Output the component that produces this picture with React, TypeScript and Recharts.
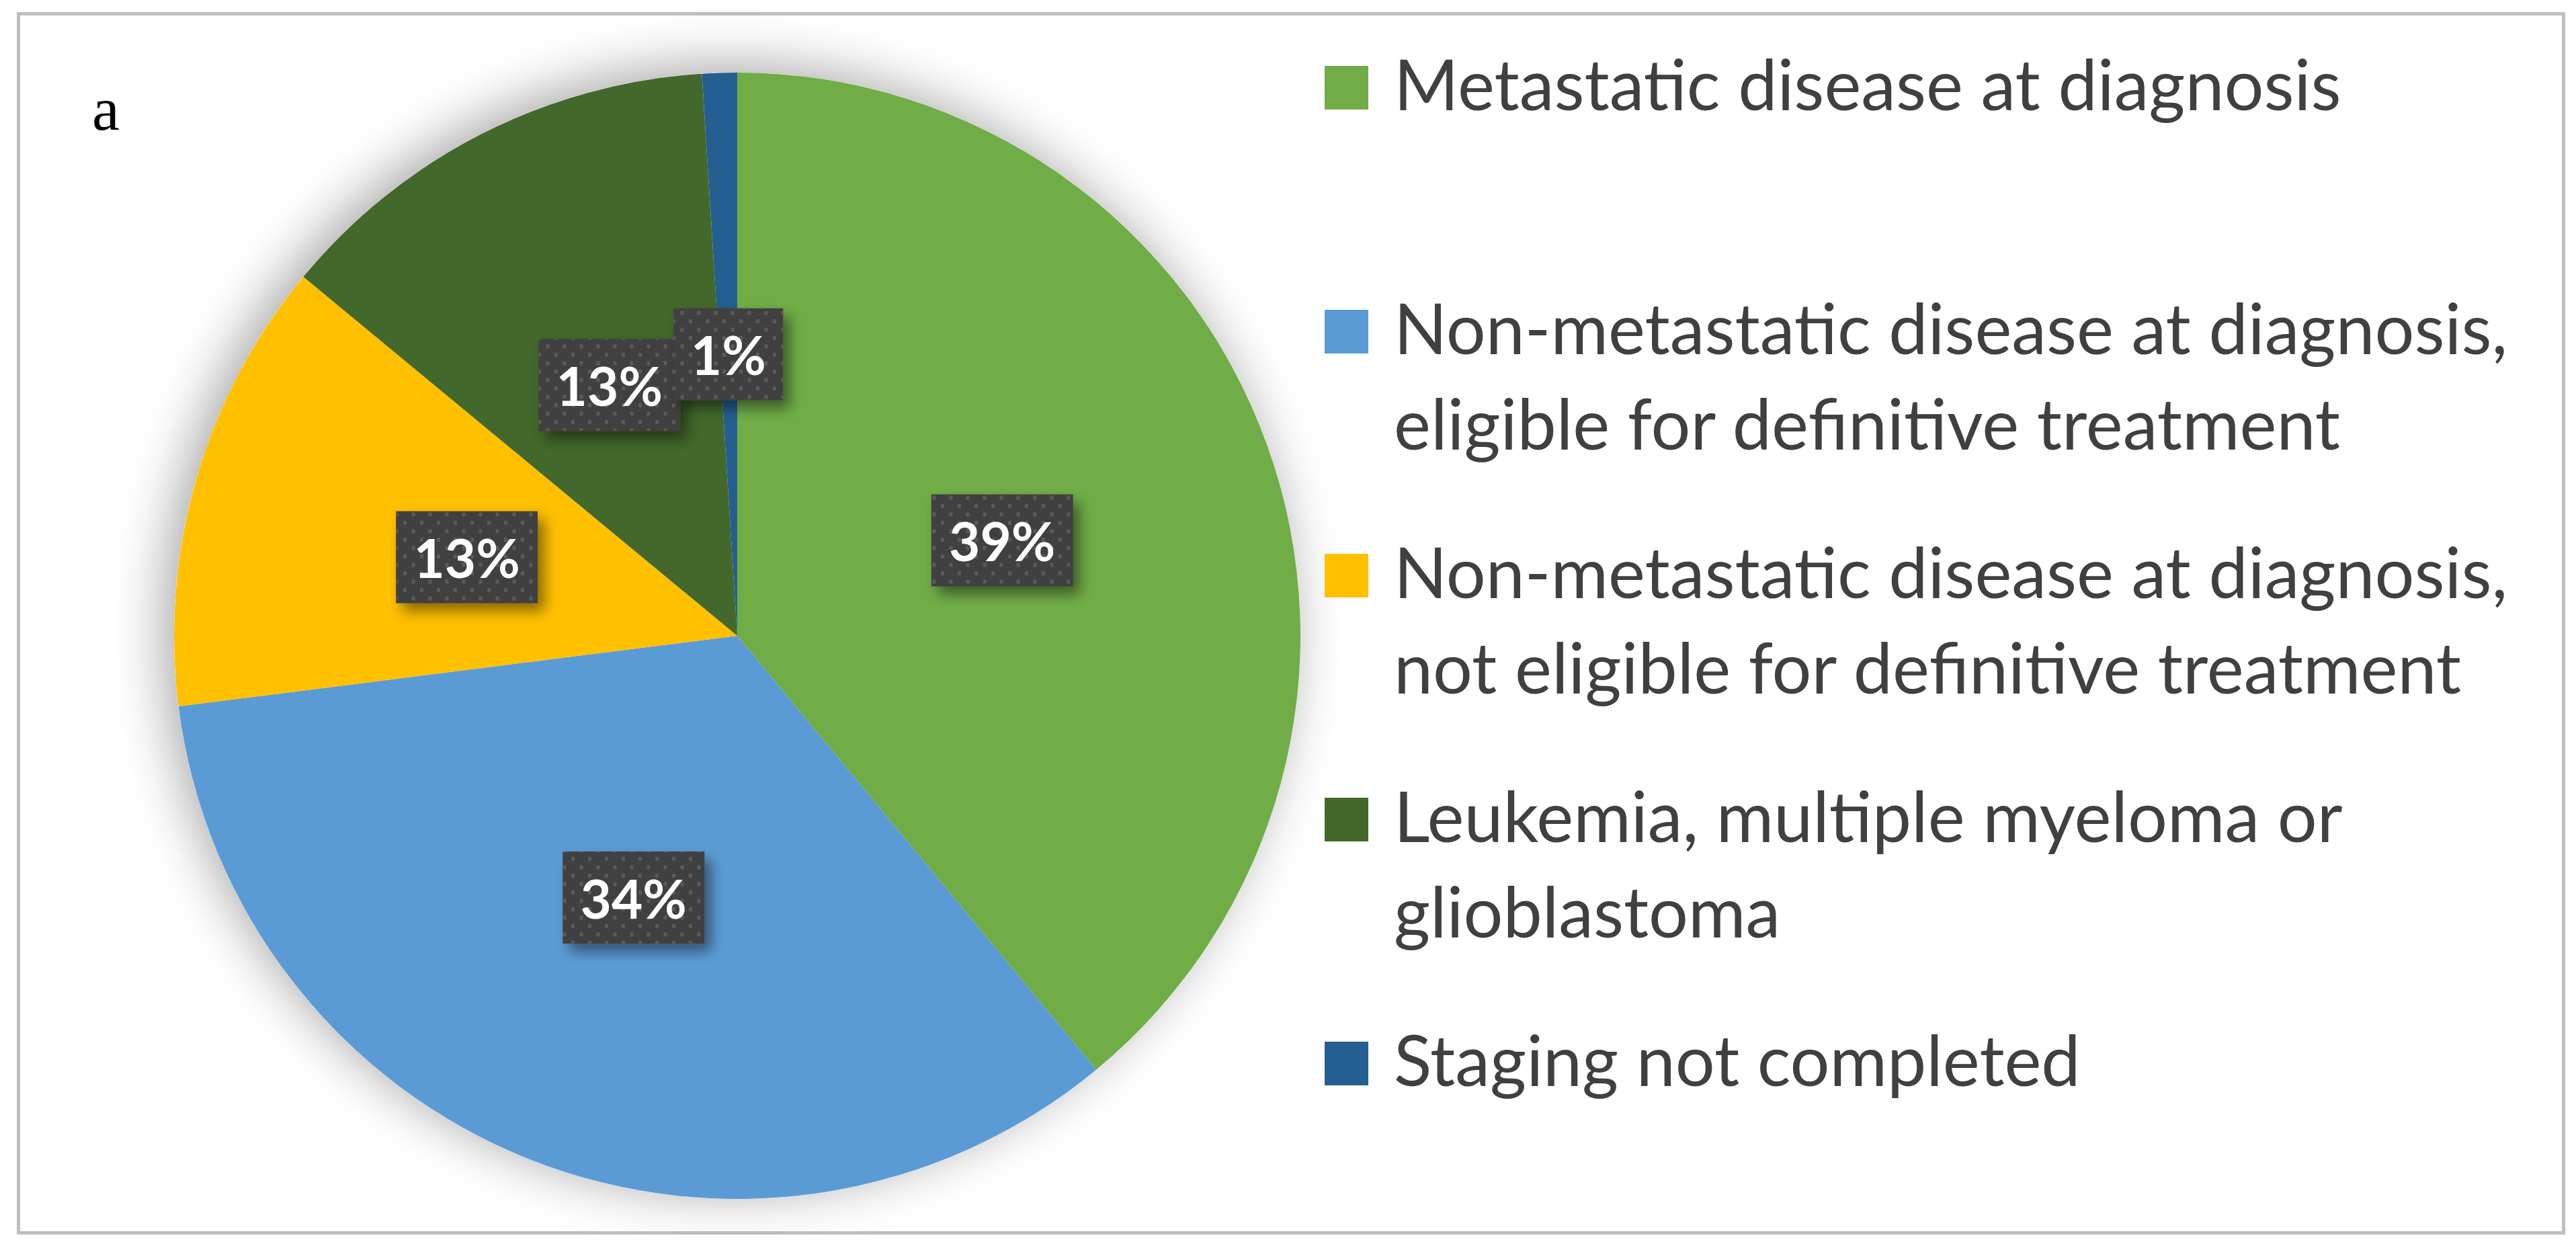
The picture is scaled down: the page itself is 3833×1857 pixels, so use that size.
import { PieChart, Pie, Cell, Legend } from "recharts";

const categories = [
  "Metastatic disease at diagnosis",
  "Non-metastatic disease at diagnosis,\neligible for definitive treatment",
  "Non-metastatic disease at diagnosis,\nnot eligible for definitive treatment",
  "Leukemia, multiple myeloma or\nglioblastoma",
  "Staging not completed",
];
const shares = [39, 34, 13, 13, 1];
const colors = ["#70AD47", "#5B9BD5", "#FFC000", "#43682B", "#255E91"];

const data = categories.map((name, i) => ({ name, value: shares[i] }));

const W = 3833;
const H = 1857;
const CX = 1097;
const CY = 946;
const R = 838;
const RAD = Math.PI / 180;

function PctLabel(props: any) {
  const { cx, cy, midAngle, outerRadius, percent } = props;
  const r = outerRadius * 0.5;
  const x = cx + r * Math.cos(-midAngle * RAD);
  const y = cy + r * Math.sin(-midAngle * RAD);
  const txt = `${Math.round(percent * 100)}%`;
  const w = 67 + 48 * txt.length;
  const h = 137;
  return (
    <g>
      <rect x={x - w / 2} y={y - h / 2} width={w} height={h} fill="#404040" filter="url(#boxShadow)" />
      <rect x={x - w / 2} y={y - h / 2} width={w} height={h} fill="url(#dots)" />
      <text
        x={x}
        y={y + 31}
        textAnchor="middle"
        fontFamily="Lato"
        fontWeight={700}
        fontSize={80}
        fill="#ffffff"
      >
        {txt}
      </text>
    </g>
  );
}

// legend drawn in data order (recharts sorts its payload by name)
function LegendBox() {
  return (
    <svg width={1850} height={1800} style={{ display: "block" }}>
      {categories.map((name, i) => {
        const base = 164 + i * 363;
        const lines = name.split("\n");
        return (
          <g key={i}>
            <rect x={11} y={base - 66} width={65} height={65} fill={colors[i]} />
            <text fontFamily="Lato" fontSize={104} fill="#404040">
              {lines.map((l, j) => (
                <tspan key={j} x={114} y={base + j * 142}>
                  {l}
                </tspan>
              ))}
            </text>
          </g>
        );
      })}
    </svg>
  );
}

export default function App() {
  return (
    <div style={{ position: "absolute", left: 0, top: 0, width: W, height: H, background: "#fff" }}>
      <style>{`.bgPie path { filter: url(#pieShadow); }`}</style>
      <svg width={W} height={H} style={{ position: "absolute", left: 0, top: 0 }}>
        <rect x={27.5} y={20.5} width={3787} height={1814} fill="#fff" stroke="#bfbfbf" strokeWidth={5} />
        <text x={137} y={193} fontFamily="Liberation Serif" fontSize={92} fill="#000">
          a
        </text>
      </svg>
      <div style={{ position: "absolute", left: 0, top: 0 }}>
        <PieChart width={W} height={H} margin={{ top: 0, right: 0, bottom: 0, left: 0 }}>
          <defs>
            <filter id="pieShadow" x="-30%" y="-30%" width="160%" height="160%">
              <feDropShadow dx={-14} dy={-10} stdDeviation={40} floodColor="#000" floodOpacity={0.35} />
            </filter>
            <filter id="boxShadow" x="-30%" y="-30%" width="170%" height="170%">
              <feDropShadow dx={10} dy={12} stdDeviation={10} floodColor="#000" floodOpacity={0.45} />
            </filter>
            <pattern id="dots" width={25} height={25} patternUnits="userSpaceOnUse">
              <rect x={0} y={0} width={5} height={6} fill="#5a5a5a" />
              <rect x={12.5} y={12.5} width={5} height={6} fill="#5a5a5a" />
            </pattern>
          </defs>
          <Pie
            className="bgPie"
            data={[{ name: "shadow", value: 1 }]}
            dataKey="value"
            nameKey="name"
            cx={CX}
            cy={CY}
            outerRadius={R}
            stroke="none"
            legendType="none"
            isAnimationActive={false}
          >
            <Cell fill="#ffffff" />
          </Pie>
          <Pie
            data={data}
            dataKey="value"
            nameKey="name"
            cx={CX}
            cy={CY}
            outerRadius={R}
            startAngle={90}
            endAngle={-270}
            stroke="none"
            label={PctLabel}
            labelLine={false}
            isAnimationActive={false}
          >
            {data.map((d, i) => (
              <Cell key={d.name} fill={colors[i]} />
            ))}
          </Pie>
          <Legend
            layout="vertical"
            align="right"
            verticalAlign="top"
            content={<LegendBox />}
            wrapperStyle={{ position: "absolute", left: 1960, top: 0, width: 1850, height: 1800 }}
          />
        </PieChart>
      </div>
    </div>
  );
}
